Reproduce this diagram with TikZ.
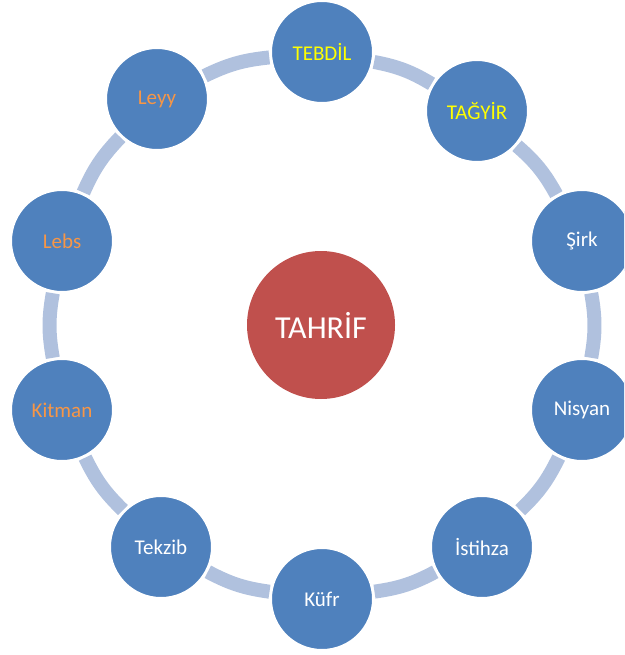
\documentclass[tikz,border=0pt]{standalone}
\usepackage{fontspec}
\setmainfont{Carlito}
\usepackage{tikz}
\definecolor{leafblue}{HTML}{4F81BD}
\definecolor{hubred}{HTML}{C0504D}
\definecolor{linkblue}{RGB}{176,193,222}
\definecolor{labelyellow}{HTML}{FFFF00}
\definecolor{labelorange}{HTML}{F79646}
\tikzstyle{leaf} = [circle, fill=leafblue, draw=white, line width=3pt,
    minimum size=103pt, inner sep=0pt, text=white, font=\fontsize{21}{25}\selectfont]
\tikzstyle{hub} = [circle, fill=hubred, minimum size=148pt, inner sep=0pt,
    text=white, font=\fontsize{32}{38}\selectfont]
\tikzstyle{link} = [draw=linkblue, line width=14pt, bend left=10]

\begin{document}
\begin{tikzpicture}[x=1pt, y=-1pt]
                \clip (0,0) rectangle (624,655);
                \node [hub] (tahrif) at (321,325) {TAHR\.{I}F};
                \node [leaf, text=labelyellow] (tebdil) at (322,52) {TEBD\.{I}L};
                \node [leaf, text=labelyellow] (tagyir) at (477,111) {TA\u{G}Y\.{I}R};
                \node [leaf] (sirk) at (582,241) {\c{S}irk};
                \node [leaf] (nisyan) at (582,410) {Nisyan};
                \node [leaf] (istihza) at (482,547) {\.{I}stihza};
                \node [leaf] (kufr) at (322,599) {K\"{u}fr};
                \node [leaf] (tekzib) at (161,547) {Tekzib};
                \node [leaf, text=labelorange] (kitman) at (62,410) {Kitman};
                \node [leaf, text=labelorange] (lebs) at (62,241) {Lebs};
                \node [leaf, text=labelorange] (leyy) at (157,99) {Leyy};
                % ring of links, clockwise from the top
                \draw [link] (tebdil) to (tagyir);
                \draw [link] (tagyir) to (sirk);
                \draw [link] (sirk) to (nisyan);
                \draw [link] (nisyan) to (istihza);
                \draw [link] (istihza) to (kufr);
                \draw [link] (kufr) to (tekzib);
                \draw [link] (tekzib) to (kitman);
                \draw [link] (kitman) to (lebs);
                \draw [link] (lebs) to (leyy);
                \draw [link] (leyy) to (tebdil);
            \end{tikzpicture}
\end{document}
